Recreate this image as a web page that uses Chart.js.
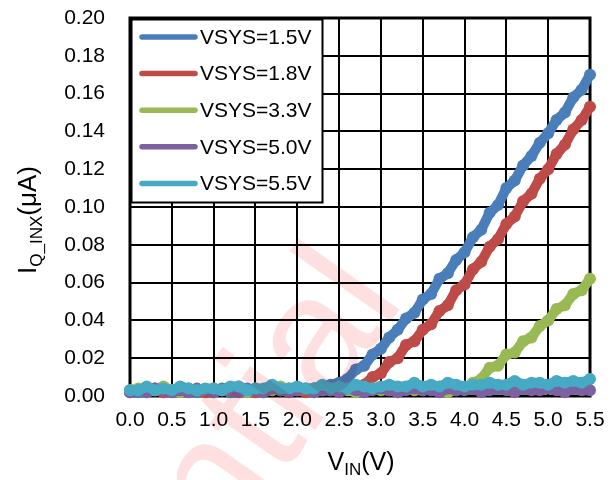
<!DOCTYPE html>
<html>
<head>
<meta charset="utf-8">
<script src="https://cdn.jsdelivr.net/npm/chart.js@4.4.1/dist/chart.umd.min.js"></script>
<style>
  html, body { margin: 0; padding: 0; background: #fff; }
  canvas { display: block; }
</style>
</head>
<body>
<canvas id="c" width="613" height="480"></canvas>
<script>
// Input voltage sweep (V)
const vin = [
  0.0, 0.1, 0.2, 0.3, 0.4, 0.5, 0.6, 0.7, 0.8, 0.9,
  1.0, 1.1, 1.2, 1.3, 1.4, 1.5, 1.6, 1.7, 1.8, 1.9,
  2.0, 2.1, 2.2, 2.3, 2.4, 2.5, 2.6, 2.7, 2.8, 2.9,
  3.0, 3.1, 3.2, 3.3, 3.4, 3.5, 3.6, 3.7, 3.8, 3.9,
  4.0, 4.1, 4.2, 4.3, 4.4, 4.5, 4.6, 4.7, 4.8, 4.9,
  5.0, 5.1, 5.2, 5.3, 5.4, 5.5
];

// Quiescent current I_Q_INX (uA) for each VSYS setting
const vsys15 = [
  0.003, 0.002, 0.003, 0.004, 0.002, 0.003, 0.003, 0.004, 0.002, 0.003,
  0.003, 0.004, 0.002, 0.003, 0.004, 0.003, 0.002, 0.004, 0.003, 0.003,
  0.004, 0.003, 0.004, 0.005, 0.006, 0.007, 0.009, 0.014, 0.016, 0.022,
  0.025, 0.031, 0.035, 0.041, 0.044, 0.051, 0.054, 0.062, 0.065, 0.072,
  0.076, 0.084, 0.088, 0.097, 0.101, 0.110, 0.114, 0.122, 0.127, 0.134,
  0.139, 0.146, 0.150, 0.158, 0.162, 0.170
];
const vsys18 = [
  0.002, 0.003, 0.004, 0.003, 0.002, 0.003, 0.004, 0.003, 0.003, 0.002,
  0.004, 0.003, 0.003, 0.005, 0.003, 0.002, 0.003, 0.004, 0.003, 0.004,
  0.003, 0.002, 0.004, 0.003, 0.004, 0.003, 0.004, 0.004, 0.006, 0.010,
  0.012, 0.018, 0.020, 0.027, 0.029, 0.035, 0.038, 0.045, 0.048, 0.056,
  0.059, 0.067, 0.071, 0.079, 0.083, 0.091, 0.095, 0.103, 0.107, 0.115,
  0.120, 0.128, 0.133, 0.141, 0.146, 0.153
];
const vsys33 = [
  0.003, 0.004, 0.002, 0.003, 0.005, 0.003, 0.002, 0.004, 0.003, 0.003,
  0.002, 0.003, 0.004, 0.003, 0.002, 0.004, 0.003, 0.003, 0.005, 0.003,
  0.003, 0.004, 0.002, 0.003, 0.003, 0.004, 0.003, 0.002, 0.003, 0.004,
  0.003, 0.003, 0.002, 0.004, 0.003, 0.003, 0.004, 0.003, 0.002, 0.003,
  0.004, 0.007, 0.009, 0.015, 0.016, 0.022, 0.023, 0.029, 0.031, 0.037,
  0.040, 0.046, 0.048, 0.054, 0.056, 0.062
];
const vsys50 = [
  0.002, 0.003, 0.002, 0.004, 0.003, 0.002, 0.003, 0.002, 0.004, 0.003,
  0.002, 0.003, 0.004, 0.002, 0.003, 0.003, 0.002, 0.004, 0.003, 0.002,
  0.003, 0.004, 0.002, 0.003, 0.003, 0.002, 0.004, 0.003, 0.002, 0.003,
  0.004, 0.003, 0.002, 0.003, 0.004, 0.003, 0.003, 0.002, 0.004, 0.003,
  0.003, 0.004, 0.002, 0.003, 0.004, 0.003, 0.002, 0.004, 0.003, 0.003,
  0.004, 0.003, 0.002, 0.004, 0.003, 0.003
];
const vsys55 = [
  0.003, 0.003, 0.005, 0.003, 0.004, 0.003, 0.005, 0.004, 0.003, 0.004,
  0.004, 0.003, 0.005, 0.005, 0.003, 0.004, 0.004, 0.006, 0.004, 0.004,
  0.005, 0.004, 0.004, 0.006, 0.004, 0.005, 0.004, 0.006, 0.005, 0.004,
  0.005, 0.006, 0.005, 0.005, 0.007, 0.005, 0.006, 0.005, 0.007, 0.006,
  0.005, 0.006, 0.006, 0.007, 0.006, 0.006, 0.008, 0.006, 0.007, 0.007,
  0.006, 0.008, 0.007, 0.008, 0.007, 0.009
];

const seriesNames = ['VSYS=1.5V', 'VSYS=1.8V', 'VSYS=3.3V', 'VSYS=5.0V', 'VSYS=5.5V'];
const seriesValues = [vsys15, vsys18, vsys33, vsys50, vsys55];
const seriesColors = ['#4a7ebb', '#be4b48', '#98b954', '#7d60a0', '#46aac5'];

const FONT = '"Liberation Sans", Arial, sans-serif';

const datasets = seriesValues.map((vals, i) => ({
  label: seriesNames[i],
  data: vin.map((x, j) => ({ x: x, y: vals[j] })),
  borderColor: seriesColors[i],
  backgroundColor: seriesColors[i],
  pointBackgroundColor: seriesColors[i],
  pointBorderWidth: 0,
  pointRadius: 6,
  pointHoverRadius: 6,
  borderWidth: 10,
  borderCapStyle: 'round',
  borderJoinStyle: 'round',
  tension: 0,
  clip: 8,
  order: seriesValues.length - 1 - i   // later series drawn on top
}));

// Thick black frame around the plot area (under the data)
const framePlugin = {
  id: 'frame',
  beforeDatasetsDraw(chart) {
    const { ctx, chartArea: a } = chart;
    ctx.save();
    ctx.strokeStyle = '#000';
    ctx.lineWidth = 3;
    ctx.strokeRect(a.left, a.top, a.right - a.left, a.bottom - a.top);
    ctx.restore();
  }
};

// Boxed legend in the upper-left corner of the plot
const legendBoxPlugin = {
  id: 'legendBox',
  afterDatasetsDraw(chart) {
    const { ctx, chartArea: a } = chart;
    const x0 = a.left + 1.5, y0 = a.top + 1.5, w = 191, h = 183;
    ctx.save();
    ctx.fillStyle = '#fff';
    ctx.fillRect(x0, y0, w, h);
    ctx.strokeStyle = '#000';
    ctx.lineWidth = 2;
    ctx.strokeRect(x0, y0, w, h);
    ctx.font = '21px ' + FONT;
    ctx.textBaseline = 'middle';
    ctx.textAlign = 'left';
    chart.data.datasets.forEach((ds, i) => {
      const y = a.top + 19 + i * 36.6;
      ctx.strokeStyle = ds.borderColor;
      ctx.lineWidth = 5.5;
      ctx.lineCap = 'round';
      ctx.beginPath();
      ctx.moveTo(a.left + 12, y);
      ctx.lineTo(a.left + 65, y);
      ctx.stroke();
      ctx.fillStyle = '#000';
      ctx.fillText(ds.label, a.left + 70, y + 1);
    });
    ctx.restore();
  }
};

// Draws a run of [text, size, drop] pieces starting at x on baseline y
function drawRuns(ctx, runs, x, y) {
  runs.forEach(r => {
    ctx.font = r[1] + 'px ' + FONT;
    ctx.fillText(r[0], x, y + r[2]);
    x += ctx.measureText(r[0]).width;
  });
}
function runsWidth(ctx, runs) {
  let w = 0;
  runs.forEach(r => { ctx.font = r[1] + 'px ' + FONT; w += ctx.measureText(r[0]).width; });
  return w;
}

// Axis titles with subscripts
const titlesPlugin = {
  id: 'titles',
  afterDraw(chart) {
    const { ctx, chartArea: a } = chart;
    ctx.save();
    ctx.fillStyle = '#000';
    ctx.textAlign = 'left';
    ctx.textBaseline = 'alphabetic';

    const xRuns = [['V', 25, 0], ['IN', 17, 5], ['(V)', 25, 0]];
    const xw = runsWidth(ctx, xRuns);
    drawRuns(ctx, xRuns, (a.left + a.right) / 2 - xw / 2 + 1, 470);

    const yRuns = [['I', 26, 0], ['Q_INX', 17, 6], ['(\u03bcA)', 26, 0]];
    const yw = runsWidth(ctx, yRuns);
    ctx.translate(36, 220);
    ctx.rotate(-Math.PI / 2);
    drawRuns(ctx, yRuns, -yw / 2, 0);
    ctx.restore();
  }
};

// Faint document stamp across the lower middle
const stampPlugin = {
  id: 'stamp',
  afterDraw(chart) {
    const { ctx } = chart;
    ctx.save();
    ctx.globalCompositeOperation = 'multiply';
    ctx.fillStyle = 'rgb(255,224,224)';
    ctx.font = '170px ' + FONT;
    ctx.textAlign = 'right';
    ctx.textBaseline = 'alphabetic';
    ctx.translate(406, 300);
    ctx.rotate(-55 * Math.PI / 180);
    ctx.fillText('Confidential', 0, 0);
    ctx.restore();
  }
};

new Chart(document.getElementById('c'), {
  type: 'line',
  data: { datasets: datasets },
  options: {
    responsive: false,
    animation: false,
    events: [],
    layout: { padding: { left: 0, right: 23, top: 18, bottom: 0 } },
    scales: {
      x: {
        type: 'linear',
        min: 0,
        max: 5.5,
        border: { display: false },
        grid: { color: '#000', lineWidth: 2, drawTicks: false },
        ticks: {
          stepSize: 0.5,
          autoSkip: false,
          maxRotation: 0,
          padding: 12,
          color: '#000',
          font: { family: FONT, size: 21 },
          callback: v => Number(v).toFixed(1)
        },
        afterFit(s) { s.height = 84; s.paddingLeft = 0; s.paddingRight = 0; }
      },
      y: {
        type: 'linear',
        min: 0,
        max: 0.2,
        border: { display: false },
        grid: { color: '#000', lineWidth: 2, drawTicks: false },
        ticks: {
          stepSize: 0.02,
          autoSkip: false,
          padding: 25,
          color: '#000',
          font: { family: FONT, size: 21 },
          callback: v => Number(v).toFixed(2)
        },
        afterFit(s) { s.width = 130; s.paddingTop = 0; s.paddingBottom = 0; }
      }
    },
    plugins: {
      legend: { display: false },
      tooltip: { enabled: false }
    }
  },
  plugins: [framePlugin, legendBoxPlugin, titlesPlugin, stampPlugin]
});
</script>
</body>
</html>
